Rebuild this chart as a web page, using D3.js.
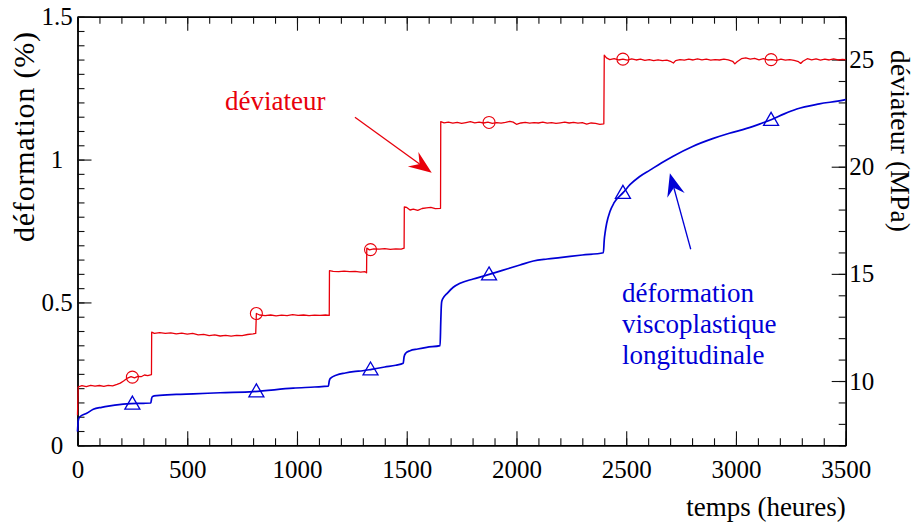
<!DOCTYPE html>
<html><head><meta charset="utf-8">
<script src="https://cdn.jsdelivr.net/npm/d3@7"></script>
<style>body{margin:0;background:#fff}svg{display:block}</style>
</head><body>
<svg id="c" width="916" height="527"></svg>
<script>
// ---- data ----
const xTicks = [0, 500, 1000, 1500, 2000, 2500, 3000, 3500];
const yLeftTicks = [0, 0.5, 1, 1.5];
const yRightTicks = [10, 15, 20, 25];
const markerHours = [250, 815, 1335, 1875, 2485, 3160];

// déviateur (MPa) vs temps (heures)
const deviateur = [
 [0,8.4],[3,9.72],[20,9.78],[40,9.74],[60,9.8],[80,9.76],[100,9.79],[120,9.75],[140,9.8],[160,9.77],[180,9.84],[195,9.9],[210,10.0],[225,10.12],[244,10.2],[260,10.15],[275,10.22],[290,10.2],[305,10.28],[320,10.25],[337,10.3],
 [338,12.28],[350,12.22],[375,12.26],[400,12.22],[425,12.25],[450,12.2],[475,12.23],[500,12.19],[525,12.22],[550,12.15],[575,12.18],[600,12.12],[625,12.15],[650,12.1],[675,12.13],[700,12.09],[725,12.13],[750,12.12],[775,12.17],[800,12.2],[812,12.22],
 [815,13.15],[830,13.08],[855,13.05],[880,13.08],[905,13.04],[930,13.07],[955,13.05],[980,13.1],[1005,13.06],[1030,13.08],[1055,13.05],[1080,13.07],[1105,13.06],[1130,13.08],[1147,13.06],
 [1148,15.15],[1165,15.12],[1190,15.1],[1215,15.13],[1240,15.1],[1265,15.12],[1290,15.08],[1310,15.1],[1317,15.05],
 [1318,16.2],[1330,16.12],[1350,16.17],[1375,16.15],[1400,16.18],[1425,16.14],[1450,16.17],[1475,16.15],[1488,16.2],
 [1489,18.12],[1500,18.1],[1515,17.98],[1530,18.02],[1550,17.96],[1570,18.05],[1590,18.08],[1610,18.1],[1630,18.04],[1654,18.06],
 [1655,22.1],[1670,22.05],[1690,22.08],[1710,22.03],[1730,22.07],[1750,22.02],[1770,22.06],[1790,22.1],[1810,22.05],[1830,22.08],[1850,22.04],[1870,22.08],[1890,22.02],[1910,22.06],[1930,22.03],[1950,22.07],[1970,22.12],[1985,22.08],[2000,21.98],[2020,22.04],[2040,22.07],[2060,22.03],[2080,22.06],[2100,22.04],[2120,22.08],[2140,22.03],[2160,22.06],[2180,22.02],[2200,22.05],[2220,22.08],[2240,22.04],[2260,22.07],[2280,22.03],[2300,22.06],[2320,21.99],[2340,22.04],[2360,22.02],[2380,21.98],[2398,22.0],
 [2400,25.2],[2410,25.08],[2425,25.0],[2445,25.04],[2465,24.98],[2485,25.02],[2505,24.97],[2525,25.03],[2545,24.98],[2565,25.02],[2585,24.96],[2605,25.0],[2625,24.95],[2645,24.99],[2665,24.95],[2685,24.97],[2705,24.9],[2715,24.84],[2725,24.95],[2745,25.0],[2765,24.97],[2785,25.02],[2805,24.98],[2825,25.03],[2845,24.99],[2865,25.02],[2885,24.97],[2905,25.0],[2925,24.98],[2945,25.02],[2965,24.99],[2985,24.92],[2995,24.8],[3005,24.9],[3025,25.04],[3045,25.08],[3065,25.02],[3085,25.06],[3105,24.99],[3125,25.04],[3145,24.98],[3165,25.0],[3185,24.96],[3205,25.02],[3225,24.97],[3245,25.0],[3265,24.96],[3285,24.9],[3295,24.82],[3305,24.92],[3325,25.04],[3345,24.99],[3365,25.03],[3385,24.97],[3405,25.02],[3425,24.98],[3445,25.03],[3465,24.98],[3485,25.01],[3500,25.0]
];

// déformation viscoplastique longitudinale (%) vs temps (heures)
const deformation = [
 [0,0.048],[4,0.089],[11,0.1],[42,0.112],[72,0.126],[110,0.133],[148,0.138],[224,0.145],[300,0.147],[334,0.148],[338,0.165],[342,0.171],[361,0.174],[450,0.178],[528,0.18],[650,0.184],[801,0.188],[983,0.2],[1080,0.204],[1143,0.207],[1147,0.225],[1152,0.234],[1181,0.246],[1220,0.253],[1257,0.258],[1300,0.261],[1340,0.266],[1400,0.274],[1450,0.28],[1484,0.287],[1488,0.31],[1495,0.322],[1515,0.331],[1550,0.337],[1591,0.343],[1652,0.349],
 [1655,0.43],[1657,0.478],[1660,0.505],[1670,0.52],[1682,0.53],[1712,0.553],[1743,0.567],[1803,0.582],[1849,0.592],[1910,0.606],[1960,0.618],[2016,0.631],[2077,0.645],[2140,0.652],[2198,0.657],[2300,0.666],[2396,0.674],
 [2400,0.72],[2404,0.745],[2411,0.777],[2426,0.818],[2445,0.849],[2487,0.885],[2517,0.912],[2560,0.94],[2608,0.963],[2660,0.988],[2714,1.012],[2800,1.045],[2897,1.074],[2970,1.092],[3049,1.109],[3110,1.125],[3163,1.14],[3220,1.16],[3277,1.177],[3380,1.195],[3489,1.208],[3500,1.21]
];

// ---- drawing ----
const svg = d3.select("#c");
const FONT = "'Liberation Serif','Times New Roman',serif";
const L = 77.5, R = 845.7, T = 16.7, B = 445.3;
const x = d3.scaleLinear([0, 3500], [L, R]);
const yL = d3.scaleLinear([0, 1.5], [B, T]);
const yR = d3.scaleLinear([7, 27], [B, T]);

const RED = "#e8000b", BLUE = "#0000d6";

function styleAxis(g) {
  g.selectAll("path.domain").attr("stroke", "#000").attr("stroke-width", 1.4);
  g.selectAll(".tick line").attr("stroke", "#111").attr("stroke-width", 1.1);
  g.selectAll("text").attr("font-family", FONT).attr("font-size", 25).attr("fill", "#000");
}
function addAxis(axis, tx, ty) {
  const g = svg.append("g").attr("transform", `translate(${tx},${ty})`).call(axis);
  styleAxis(g);
  return g;
}
const minorX = d3.range(0, 3501, 100);
const minorYL = d3.range(0, 1.5001, 0.05);
const minorYR = d3.range(7, 27.001, 1);

// minor ticks
addAxis(d3.axisBottom(x).tickValues(minorX).tickSizeInner(-7).tickSizeOuter(0).tickFormat(""), 0, B);
addAxis(d3.axisTop(x).tickValues(minorX).tickSizeInner(-7).tickSizeOuter(0).tickFormat(""), 0, T);
addAxis(d3.axisLeft(yL).tickValues(minorYL).tickSizeInner(-7).tickSizeOuter(0).tickFormat(""), L, 0);
addAxis(d3.axisRight(yR).tickValues(minorYR).tickSizeInner(-7).tickSizeOuter(0).tickFormat(""), R, 0);
// major ticks + labels
addAxis(d3.axisBottom(x).tickValues(xTicks).tickSizeInner(-14).tickSizeOuter(0).tickPadding(15).tickFormat(d3.format("d")), 0, B);
addAxis(d3.axisTop(x).tickValues(xTicks).tickSizeInner(-14).tickSizeOuter(0).tickFormat(""), 0, T);
const gl = addAxis(d3.axisLeft(yL).tickValues(yLeftTicks).tickSizeInner(-14).tickSizeOuter(0).tickFormat(d3.format("")), L, 0);
gl.selectAll("text").attr("text-anchor", "middle").attr("x", -20.5);
addAxis(d3.axisRight(yR).tickValues(yRightTicks).tickSizeInner(-14).tickSizeOuter(0).tickPadding(3.5).tickFormat(d3.format("d")), R, 0);

// axis titles
svg.append("text").attr("x", 766).attr("y", 516).attr("text-anchor", "middle")
  .attr("font-family", FONT).attr("font-size", 27).text("temps (heures)");
svg.append("text").attr("transform", "translate(34,137) rotate(-90)").attr("text-anchor", "middle")
  .attr("font-family", FONT).attr("font-size", 30)
  .attr("textLength", 210).attr("lengthAdjust", "spacing").text("déformation (%)");
svg.append("text").attr("transform", "translate(891,141) rotate(90)").attr("text-anchor", "middle")
  .attr("font-family", FONT).attr("font-size", 27.5)
  .attr("textLength", 182).attr("lengthAdjust", "spacing").text("déviateur (MPa)");

// series lines
const lineR = d3.line().x(d => x(d[0])).y(d => yR(d[1]));
const lineB = d3.line().x(d => x(d[0])).y(d => yL(d[1])).curve(d3.curveMonotoneX);
svg.append("path").datum(deviateur).attr("d", lineR).attr("fill", "none")
  .attr("stroke", RED).attr("stroke-width", 1.3).attr("stroke-linejoin", "round");
svg.append("path").datum(deformation).attr("d", lineB).attr("fill", "none")
  .attr("stroke", BLUE).attr("stroke-width", 1.7).attr("stroke-linejoin", "round");

// markers (values looked up on the series)
function valueAt(series, t) {
  const i = d3.bisector(d => d[0]).left(series, t);
  if (i <= 0) return series[0][1];
  if (i >= series.length) return series[series.length - 1][1];
  const a = series[i - 1], b = series[i];
  return a[1] + (b[1] - a[1]) * (t - a[0]) / (b[0] - a[0]);
}
svg.append("g").selectAll("circle").data(markerHours).join("circle")
  .attr("cx", t => x(t)).attr("cy", t => yR(valueAt(deviateur, t)))
  .attr("r", 6).attr("fill", "none").attr("stroke", RED).attr("stroke-width", 1.1);
const tri = "M0,-7.5L7.5,5.5L-7.5,5.5Z";
svg.append("g").selectAll("path").data(markerHours).join("path")
  .attr("transform", t => `translate(${x(t)},${yL(valueAt(deformation, t))})`)
  .attr("d", tri).attr("fill", "none").attr("stroke", BLUE).attr("stroke-width", 1.3);

// annotations (placed in data coordinates)
function arrow(from, to, color) {
  const x0 = x(from[0]), y0 = yL(from[1]), x1 = x(to[0]), y1 = yL(to[1]);
  const dx = x1 - x0, dy = y1 - y0, len = Math.hypot(dx, dy);
  const ux = dx / len, uy = dy / len, nx = -uy, ny = ux;
  const hl = 23, hw = 9, notch = 15;
  const bx = x1 - ux * notch, by = y1 - uy * notch;
  svg.append("line").attr("x1", x0).attr("y1", y0).attr("x2", bx).attr("y2", by)
    .attr("stroke", color).attr("stroke-width", 1.3);
  const p = [[x1, y1], [x1 - ux * hl + nx * hw, y1 - uy * hl + ny * hw], [bx, by], [x1 - ux * hl - nx * hw, y1 - uy * hl - ny * hw]];
  svg.append("path").attr("d", "M" + p.map(q => q.join(",")).join("L") + "Z").attr("fill", color);
}
arrow([1264, 1.148], [1614, 0.954], RED);
arrow([2794, 0.686], [2699, 0.952], BLUE);

svg.append("text").attr("x", x(672)).attr("y", yL(1.174)).attr("font-family", FONT)
  .attr("font-size", 27).attr("fill", RED).text("déviateur");
const blueLines = ["déformation", "viscoplastique", "longitudinale"];
svg.append("g").selectAll("text").data(blueLines).join("text")
  .attr("x", x(2481)).attr("y", (d, i) => yL(0.503) + i * 31)
  .attr("font-family", FONT).attr("font-size", 27).attr("fill", BLUE).text(d => d);
</script>
</body></html>
